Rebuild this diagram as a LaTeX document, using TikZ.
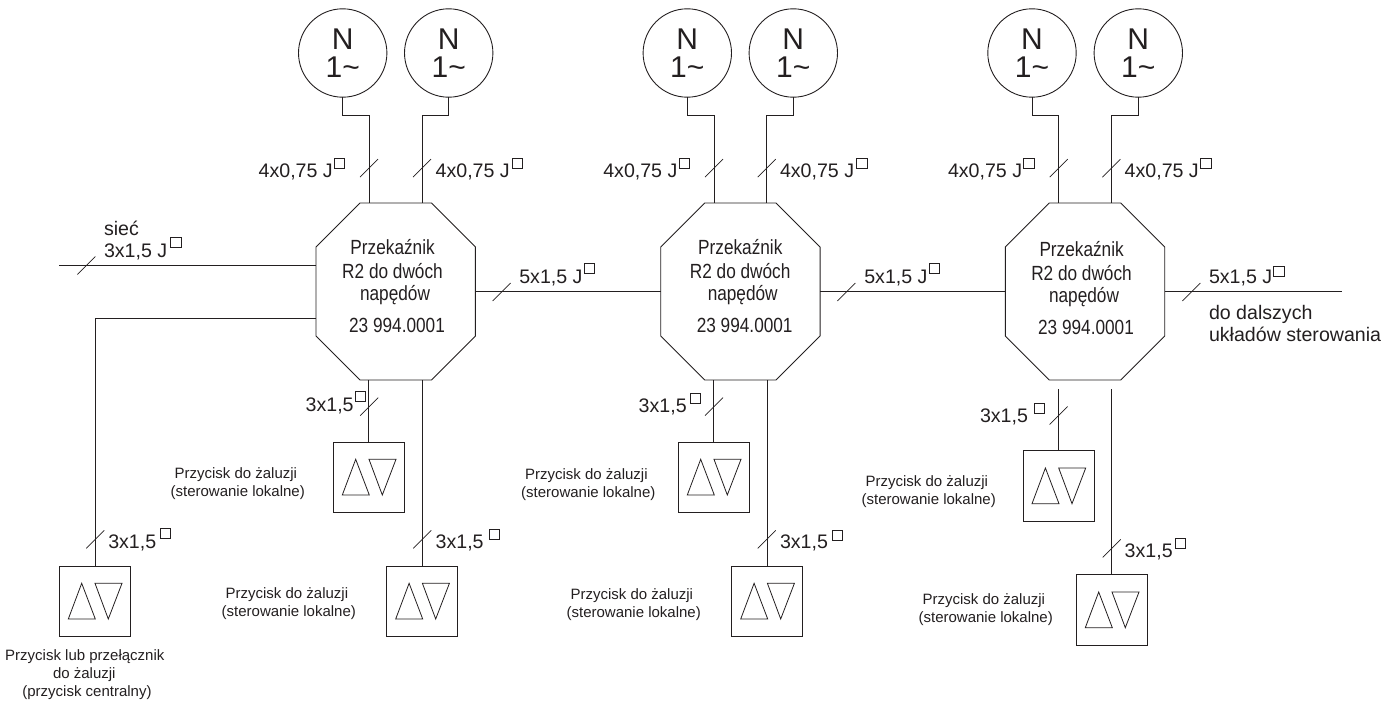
\documentclass[tikz,border=0pt]{standalone}
\usepackage{fontspec}
\setmainfont{Liberation Sans}
\newfontfamily\relayfont[FakeStretch=0.84]{Liberation Sans}
\definecolor{ink}{HTML}{231F20}
\tikzset{
  every node/.style={inner sep=0pt,outer sep=0pt,text=ink},
  wire/.style={draw=ink,line width=0.9pt},
  thin tick/.style={draw=ink,line width=0.7pt},
  motor/.style={circle,draw=ink,line width=0.9pt,minimum size=88.4pt,align=center,font=\fontsize{30}{28}\selectfont},
  relaybox/.style={rectangle,minimum width=159.4pt,minimum height=177pt},
  btnbox/.style={rectangle,draw=ink,line width=0.9pt,minimum width=71pt,minimum height=70.7pt},
  tri/.style={draw=ink,line width=0.8pt,line join=miter},
  cable/.style={anchor=base west,font=\fontsize{19.6}{22}\selectfont},
  sqbox/.style={rectangle,draw=ink,line width=0.8pt,minimum width=10.4pt,minimum height=10pt},
  btntext/.style={anchor=base,align=center,font=\fontsize{15}{17.9}\selectfont},
  relaytext/.style={anchor=base,align=center,font=\relayfont\fontsize{20.5}{22}\selectfont},
  note/.style={anchor=base west,align=left,font=\fontsize{19.6}{22.7}\selectfont},
}
% a line of a centred text, moved left by half of #2
\newcommand\shifted[2]{\mbox{#1\kern#2}}
% cable label: name, x, baseline y, text, square left x, square top y
\newcommand\cablelab[6]{%
  \node[cable] (#1) at (#2,#3) {#4};
  \node[sqbox,anchor=north west] (#1sq) at (#5,#6) {};
}
% slash across a wire, centred at x,y
\newcommand\slashmark[2]{\draw[thin tick] (#1-9,#2+9) -- (#1+9,#2-9);}
% octagon: name, left x, text centre x, last baseline y
\newcommand\octagon[4]{%
  \node[relaybox] (#1) at (#2+79.7,291.5) {};
  \draw[wire,line join=miter] ([xshift=44pt]#1.north west) -- ([xshift=-44pt]#1.north east)
    -- ([yshift=-44pt]#1.north east) -- ([yshift=44pt]#1.south east)
    -- ([xshift=-44pt]#1.south east) -- ([xshift=44pt]#1.south west)
    -- ([yshift=44pt]#1.south west) -- ([yshift=-44pt]#1.north west) -- cycle;
  \node[relaytext] (#1t) at (#3,#4) {\shifted{Przekaźnik}{8.8pt}\\[2.3pt]\shifted{R2 do dwóch}{9pt}\\[0.4pt]\shifted{napędów}{4pt}\\[9.6pt]23 994.0001};
}
% button: name, left x, top y
\newcommand\button[3]{%
  \node[btnbox,anchor=north west] (#1) at (#2,#3) {};
  \draw[tri] (#2+9,#3+53) -- (#2+36,#3+53) -- (#2+22.4,#3+17.3) -- cycle;
  \draw[tri] (#2+35.7,#3+17.3) -- (#2+62.7,#3+17.3) -- (#2+49,#3+53) -- cycle;
}
\newcommand\btnnote[3]{\node[btntext] (#1) at (#2,#3) {\shifted{Przycisk do żaluzji}{3.8pt}\\(sterowanie lokalne)};}
\begin{document}
\begin{tikzpicture}[x=1pt,y=-1pt]
\useasboundingbox (0,0) rectangle (1398,701);
% relays
\octagon{r1}{316}{397}{332.3}
\octagon{r2}{660.7}{744.7}{332.3}
\octagon{r3}{1005.3}{1086}{334.3}
% motors
\node[motor] (m11) at (342.7,53) {N\\1\textasciitilde};
\node[motor] (m12) at (448.7,53) {N\\1\textasciitilde};
\node[motor] (m21) at (687.3,53) {N\\1\textasciitilde};
\node[motor] (m22) at (793.3,53) {N\\1\textasciitilde};
\node[motor] (m31) at (1032,53) {N\\1\textasciitilde};
\node[motor] (m32) at (1138.3,53) {N\\1\textasciitilde};
\coordinate (k11) at (369,115);
\coordinate (k12) at (422,115);
\coordinate (k21) at (714,115);
\coordinate (k22) at (766.7,115);
\coordinate (k31) at (1058.7,115);
\coordinate (k32) at (1111.3,115);
\foreach \a/\b/\c in {m11/k11/r1,m12/k12/r1,m21/k21/r2,m22/k22/r2,m31/k31/r3,m32/k32/r3}
  \draw[wire,line join=miter] (\a.south) |- (\b) -- (\b |- \c.north);
\foreach \x in {369,422,714,766.7,1058.7,1111.3} {\slashmark{\x}{168.2}}
% motor cable labels
\cablelab{l11}{258.7}{177}{4x0,75 J}{334.3}{158.7}
\cablelab{l12}{435.7}{177}{4x0,75 J}{512.3}{158.7}
\cablelab{l21}{603.3}{177}{4x0,75 J}{679.3}{158.7}
\cablelab{l22}{780}{177}{4x0,75 J}{856.7}{158.7}
\cablelab{l31}{948}{177}{4x0,75 J}{1023.7}{158.7}
\cablelab{l32}{1124.7}{177}{4x0,75 J}{1200.7}{158.7}
% mains
\coordinate (in) at (59.3,265.3);
\draw[wire] (in) -- (in -| r1.west);
\slashmark{86.3}{265.5}
\node[cable] (siec) at (104,235.7) {sieć};
\cablelab{lin}{104}{257.3}{3x1,5 J}{170.7}{237}
% bus
\draw[wire] (r1.east) -- (r2.west);
\draw[wire] (r2.east) -- (r3.west);
\coordinate (out) at (1342,291.5);
\draw[wire] (r3.east) -- (out);
\slashmark{501.7}{292}
\slashmark{846.3}{292}
\slashmark{1191.3}{292}
\cablelab{b1}{519.3}{283.3}{5x1,5 J}{584}{263.3}
\cablelab{b2}{864.3}{283.3}{5x1,5 J}{929}{263.3}
\cablelab{b3}{1209}{283.3}{5x1,5 J}{1273.7}{266}
\node[note] (dalej) at (1209,341.7) {do dalszych\\układów sterowania};
% central button
\button{bc}{59.3}{566}
\coordinate (c1) at (95,318.3);
\draw[wire,line join=miter] (c1 -| r1.west) -- (c1) -- (c1 |- bc.north);
\slashmark{95.3}{539.3}
\cablelab{lc}{108.3}{548.3}{3x1,5}{160.3}{528.7}
\node[btntext] (cnote) at (87,696) {\shifted{Przycisk lub przełącznik}{4.4pt}\\\shifted{do żaluzji}{5.4pt}\\(przycisk centralny)};
% relay 1 buttons
\button{b11}{333.3}{442}
\button{b12}{386.7}{566}
\draw[wire] (r1.south -| b11.north) -- (b11.north);
\draw[wire] (r1.south -| b12.north) -- (b12.north);
\slashmark{369.2}{406.7}
\slashmark{422.3}{539.3}
\cablelab{l13}{305.7}{411.3}{3x1,5}{355.3}{391.7}
\cablelab{l14}{435.7}{548.3}{3x1,5}{489}{529.3}
\btnnote{n11}{237.7}{496}
\btnnote{n12}{288.8}{616}
% relay 2 buttons
\button{b21}{678.3}{442}
\button{b22}{731.7}{566}
\draw[wire] (r2.south -| b21.north) -- (b21.north);
\draw[wire] (r2.south -| b22.north) -- (b22.north);
\slashmark{714}{406.7}
\slashmark{766.7}{539.3}
\cablelab{l23}{638.7}{412}{3x1,5}{690}{393}
\cablelab{l24}{780}{548.3}{3x1,5}{832.3}{530}
\btnnote{n21}{588.3}{497.7}
\btnnote{n22}{633.7}{617.7}
% relay 3 buttons (wires stop short of the relay)
\button{b31}{1023}{450.7}
\button{b32}{1076.3}{574.7}
\coordinate (g31) at (1058.7,389);
\coordinate (g32) at (1111.3,389);
\draw[wire] (g31) -- (g31 |- b31.north);
\draw[wire] (g32) -- (g32 |- b32.north);
\slashmark{1058.7}{415.5}
\slashmark{1111.7}{548.3}
\cablelab{l33}{980}{422}{3x1,5}{1034}{403.7}
\cablelab{l34}{1124.7}{557}{3x1,5}{1175.3}{538.3}
\btnnote{n31}{928.7}{504}
\btnnote{n32}{985.7}{622.7}
\end{tikzpicture}
\end{document}
